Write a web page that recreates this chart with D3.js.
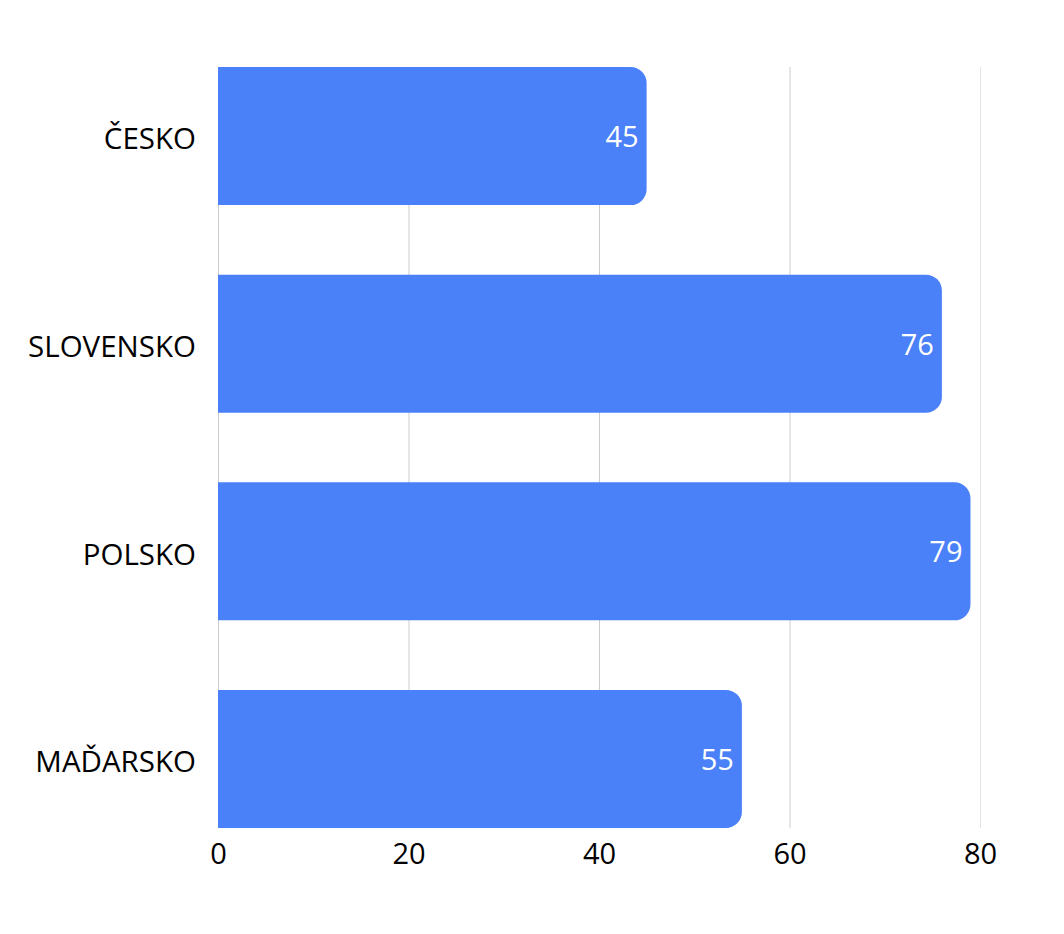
<!DOCTYPE html>
<html>
<head>
<meta charset="utf-8">
<script src="https://cdn.jsdelivr.net/npm/d3@7"></script>
<style>
  body { margin: 0; background: #fff; }
  text { font-family: "Open Sans", sans-serif; }
</style>
</head>
<body>
<div id="chart-area"></div>
<script>
var categories = ["ČESKO", "SLOVENSKO", "POLSKO", "MAĎARSKO"];
var values = [45, 76, 79, 55];
var tickValues = [0, 20, 40, 60, 80];

var margin = {top: 67, right: 84, bottom: 106, left: 218};
var width = 1064 - margin.left - margin.right;
var height = 934 - margin.top - margin.bottom;

var svg = d3.select("#chart-area").append("svg")
    .attr("width", 1064)
    .attr("height", 934);

var g = svg.append("g")
    .attr("transform", "translate(" + margin.left + ", " + margin.top + ")");

var x = d3.scaleLinear().domain([0, 80]).range([0, width]);
var y = d3.scaleBand().domain(categories).range([0, height]).paddingInner(0.335).paddingOuter(0);

var data = categories.map((c, i) => ({name: c, value: values[i]}));

// grid
g.selectAll("line.grid").data(tickValues).enter().append("line")
    .attr("class", "grid")
    .attr("x1", (d) => x(d) + 0.5)
    .attr("x2", (d) => x(d) + 0.5)
    .attr("y1", 0)
    .attr("y2", height)
    .attr("stroke", (d) => d == 80 ? "#e4e4e4" : "#cccccc")
    .attr("stroke-width", 1);

// bars with right rounded corners
var r = 16;
g.selectAll("path.bar").data(data).enter().append("path")
    .attr("class", "bar")
    .attr("fill", "#4a80f8")
    .attr("d", (d) => {
        var x0 = 0, x1 = x(d.value), y0 = y(d.name), y1 = y0 + y.bandwidth();
        return "M" + x0 + "," + y0 +
            "H" + (x1 - r) +
            "A" + r + "," + r + " 0 0 1 " + x1 + "," + (y0 + r) +
            "V" + (y1 - r) +
            "A" + r + "," + r + " 0 0 1 " + (x1 - r) + "," + y1 +
            "H" + x0 + "Z";
    });

// value labels
g.selectAll("text.val").data(data).enter().append("text")
    .attr("class", "val")
    .attr("x", (d) => x(d.value) - 8)
    .attr("y", (d) => y(d.name) + y.bandwidth() / 2)
    .attr("dy", "0.38em")
    .attr("text-anchor", "end")
    .attr("font-size", "29px")
    .attr("fill", "white")
    .text((d) => d.value);

// category labels
var leftAxis = d3.axisLeft(y).tickSize(0).tickPadding(22);
var yAxisGroup = g.append("g").call(leftAxis);
yAxisGroup.select(".domain").remove();
yAxisGroup.selectAll("text")
    .attr("dy", "0.45em")
    .attr("font-size", "29.5px")
    .attr("fill", "#000");

// bottom ticks
var bottomAxis = d3.axisBottom(x).tickValues(tickValues).tickSize(0).tickPadding(15);
var xAxisGroup = g.append("g")
    .attr("transform", "translate(0, " + height + ")")
    .call(bottomAxis);
xAxisGroup.select(".domain").remove();
xAxisGroup.selectAll("text")
    .attr("font-size", "29px")
    .attr("fill", "#000");
</script>
</body>
</html>
